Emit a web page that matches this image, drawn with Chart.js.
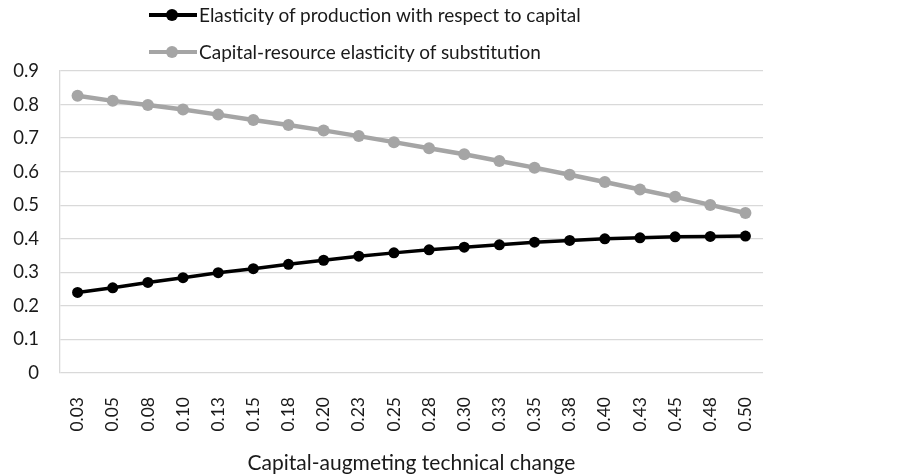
<!DOCTYPE html>
<html>
<head>
<meta charset="utf-8">
<script src="https://cdn.jsdelivr.net/npm/chart.js@4/dist/chart.umd.min.js"></script>
<style>
  html, body { margin: 0; padding: 0; background: #fff; }
  #wrap { position: relative; width: 903px; height: 476px; }
  #legend { position: absolute; left: 149px; top: -4px; font-family: Lato, "Open Sans", sans-serif; font-size: 19px; color: #1a1a1a; }
  .leg-item { display: flex; align-items: center; height: 37px; }
  .leg-sym { position: relative; width: 48px; height: 12px; margin-right: 2px; }
  .leg-sym .ln { position: absolute; left: 0; right: 0; top: 4px; height: 4px; }
  .leg-sym .dot { position: absolute; left: 17px; top: 0; width: 12px; height: 12px; border-radius: 50%; }
</style>
</head>
<body>
<div id="wrap">
  <canvas id="chart" width="903" height="476"></canvas>
  <div id="legend"></div>
</div>
<script>
const categories = ["0.03", "0.05", "0.08", "0.10", "0.13", "0.15", "0.18", "0.20", "0.23", "0.25",
  "0.28", "0.30", "0.33", "0.35", "0.38", "0.40", "0.43", "0.45", "0.48", "0.50"];

const productionElasticity = [0.240, 0.254, 0.270, 0.284, 0.299, 0.311, 0.324, 0.336, 0.348, 0.358,
  0.367, 0.375, 0.382, 0.390, 0.395, 0.400, 0.403, 0.406, 0.407, 0.408];

const substitutionElasticity = [0.826, 0.811, 0.799, 0.785, 0.770, 0.754, 0.739, 0.723, 0.706, 0.688,
  0.670, 0.652, 0.632, 0.612, 0.591, 0.569, 0.547, 0.525, 0.501, 0.477];

const yTicks = [0, 0.1, 0.2, 0.3, 0.4, 0.5, 0.6, 0.7, 0.8, 0.9];

const FONT = "Lato, 'Open Sans', sans-serif";

const chart = new Chart(document.getElementById("chart").getContext("2d"), {
  type: "line",
  data: {
    labels: categories,
    datasets: [
      {
        label: "Elasticity of production with respect to capital",
        data: productionElasticity,
        borderColor: "#000000",
        backgroundColor: "#000000",
        borderWidth: 3.5,
        pointRadius: 5.5,
        pointBorderWidth: 0,
        tension: 0,
      },
      {
        label: "Capital-resource elasticity of substitution",
        data: substitutionElasticity,
        borderColor: "#a5a5a5",
        backgroundColor: "#a5a5a5",
        borderWidth: 4.5,
        pointRadius: 6,
        pointBorderWidth: 0,
        tension: 0,
      },
    ],
  },
  options: {
    responsive: false,
    animation: false,
    devicePixelRatio: 1,
    layout: { padding: { left: 0, right: 140, top: 71, bottom: 0 } },
    plugins: {
      legend: { display: false },
      tooltip: { enabled: false },
    },
    scales: {
      x: {
        offset: true,
        grid: { display: false },
        border: { display: false },
        ticks: {
          color: "#1a1a1a",
          font: { family: FONT, size: 17.5 },
          minRotation: 90,
          maxRotation: 90,
          padding: 16,
        },
        title: {
          display: true,
          text: "Capital-augmeting technical change",
          color: "#1a1a1a",
          font: { family: FONT, size: 21 },
          padding: { top: 6, bottom: 0 },
        },
        afterFit: (s) => { s.height = 103; },
      },
      y: {
        min: 0,
        max: 0.9,
        afterBuildTicks: (s) => { s.ticks = yTicks.map((v) => ({ value: v })); },
        grid: { color: "#d9d9d9", lineWidth: 1.3, drawTicks: false },
        border: { display: true, color: "#d9d9d9", width: 1.3 },
        ticks: {
          color: "#1a1a1a",
          font: { family: FONT, size: 18.5 },
          padding: 21,
          callback: (v) => (v === 0 ? "0" : v.toFixed(1)),
        },
        afterFit: (s) => { s.width = 60; },
      },
    },
  },
});

// legend stacked on two rows, left aligned like the original
const legend = document.getElementById("legend");
chart.data.datasets.forEach((ds) => {
  const item = document.createElement("div");
  item.className = "leg-item";
  item.innerHTML = `<span class="leg-sym"><span class="ln" style="background:${ds.borderColor}"></span><span class="dot" style="background:${ds.borderColor}"></span></span><span>${ds.label}</span>`;
  legend.appendChild(item);
});
</script>
</body>
</html>
